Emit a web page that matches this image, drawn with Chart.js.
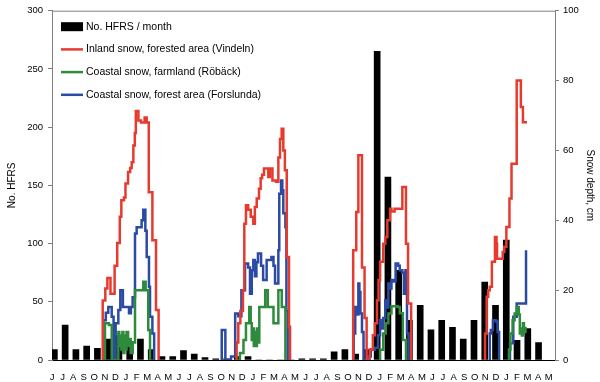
<!DOCTYPE html>
<html>
<head>
<meta charset="utf-8">
<script src="https://cdn.jsdelivr.net/npm/chart.js@4.4.0/dist/chart.umd.min.js"></script>
<style>
  html, body { margin: 0; padding: 0; background: #fff; }
  #chart { display: block; }
</style>
</head>
<body>
<canvas id="chart" width="600" height="382"></canvas>
<script>
// month letters under the x axis (June year 1 .. May year 5)
const monthLabels = ['J','J','A','S','O','N','D','J','F','M','A','M',
                     'J','J','A','S','O','N','D','J','F','M','A','M',
                     'J','J','A','S','O','N','D','J','F','M','A','M',
                     'J','J','A','S','O','N','D','J','F','M','A','M'];

// monthly HFRS cases
const hfrsCases = [9, 30, 9, 12, 10, 18, 21, 16, 18, 9,
                   3, 3, 8, 5, 2, 1, 1, 3, 3, 0,
                   0, 0, 0, 1, 1, 1, 7, 9, 5, 9,
                   265, 157, 77, 34, 47, 26, 34, 28, 18, 34,
                   67, 47, 103, 17, 27, 15];

// snow depth (cm), [month, depth] pairs, month 0 = start of first June
const inlandSnow = [
  [4.9, 0], [4.9, 17], [5.15, 20.5], [5.35, 23.5], [5.65, 19], [6.05, 27], [6.3, 33.5], [6.55, 41],
  [6.7, 45.7], [6.95, 46.5], [7.1, 50.5], [7.35, 53.8], [7.55, 55], [7.7, 56.6], [7.86, 61.4],
  [8.0, 65], [8.1, 71.3], [8.35, 68.6], [8.6, 68], [8.95, 69.4], [9.15, 68], [9.35, 48],
  [9.7, 34.3], [10.05, 14.3], [10.3, 0], [10.3, null],
  [17.84, 0], [17.84, 5], [18.0, 10.5], [18.2, 14], [18.45, 20], [18.58, 39], [18.74, 44.3],
  [18.95, 43], [19.2, 41], [19.45, 39], [19.6, 43.8], [19.78, 46.2], [20.0, 49], [20.16, 52],
  [20.3, 53], [20.48, 54.8], [20.9, 52.4], [21.05, 54.8], [21.3, 51.4], [21.64, 51], [21.87, 58],
  [22.03, 63.3], [22.19, 66.2], [22.35, 60], [22.5, 54.3], [22.68, 29.5], [22.9, 9.5], [23.0, 0],
  [23.0, null],
  [29.1, 0], [29.1, 31.4], [29.4, 42.4], [29.6, 58.6], [29.95, 26.5], [30.2, 12], [30.4, 0],
  [30.7, 3], [31.0, 7.1], [31.2, 10.5], [31.4, 17.1], [31.55, 22.9], [31.7, 28.1], [32.0, 33.3],
  [32.2, 35.2], [32.4, 40], [32.66, 43.3], [32.8, 42.5], [33.1, 43.3], [33.85, 49.5], [34.2, 33.3],
  [34.4, 16.2], [34.7, 0], [34.7, null],
  [41.84, 0], [41.84, 7.6], [42.0, 18.1], [42.15, 20], [42.3, 21], [42.5, 28.1], [42.8, 35.2],
  [42.95, 33.3], [43.0, 29], [43.55, 30.9], [43.7, 32.4], [43.9, 38.1], [44.2, 46.2], [44.4, 56.2],
  [44.9, 80], [45.3, 72.4], [45.5, 68.1], [45.9, 68.1]
];

const farmlandSnow = [
  [5.12, 0], [5.12, 10.5], [5.5, 10], [5.77, 0], [6.41, 8], [6.5, 4], [6.6, 7], [6.7, 3], [6.8, 8],
  [6.9, 2], [7.0, 7], [7.1, 3], [7.2, 8], [7.35, 4], [7.5, 6], [7.6, 2], [7.8, 5], [8.02, 20],
  [8.82, 22.4], [9.05, 20], [9.3, 8.6], [9.47, 0], [9.47, null],
  [18.16, 0], [18.16, 2], [18.5, 5.7], [18.74, 10.5], [19.06, 15.2], [19.2, 10.5], [19.3, 5.7],
  [19.4, 9], [19.5, 4], [19.6, 8], [19.7, 4], [19.8, 9], [19.9, 5], [20.03, 15.2], [20.6, 20],
  [20.85, 15.2], [21.4, 10.5], [21.87, 20], [22.2, 15.2], [22.55, 0], [22.55, null],
  [31.7, 0], [31.7, 2.9], [32.0, 7.6], [32.25, 10.5], [32.5, 13.3], [32.8, 15.4], [33.4, 15.2],
  [33.6, 13.4], [33.9, 5.7], [34.2, 0], [34.2, null],
  [44.15, 0], [44.15, 3], [44.3, 7.6], [44.5, 11.4], [44.7, 13.3], [44.9, 15.2], [45.1, 13],
  [45.2, 7.6], [45.3, 9], [45.4, 7], [45.5, 10.5], [45.6, 8], [45.75, 9.5]
];

const forestSnow = [
  [4.96, 0], [4.96, 11.4], [5.2, 13.5], [5.44, 15.2], [5.77, 12.4], [5.95, 0], [6.15, 10.5],
  [6.41, 14.3], [6.6, 20], [6.85, 15.2], [7.44, 13.4], [7.62, 15.2], [7.79, 18], [8.02, 36.2],
  [8.18, 38], [8.66, 40], [8.82, 43], [9.02, 37], [9.15, 29.5], [9.37, 21], [9.47, 12.4],
  [9.7, 7.6], [9.87, 0], [9.87, null],
  [16.4, 0], [16.4, 8.6], [16.75, 0], [17.3, 1], [17.7, 13.3], [18.0, 12.5], [18.3, 20],
  [18.65, 27.6], [18.95, 26.5], [19.13, 19], [19.3, 25.7], [19.45, 28.6], [19.6, 24], [19.75, 28],
  [19.9, 30.5], [20.2, 27], [20.4, 22.9], [20.74, 28.6], [21.2, 29.5], [21.4, 27], [21.55, 21.9],
  [21.87, 31.4], [21.96, 47.6], [22.13, 51.4], [22.25, 48.6], [22.35, 42], [22.55, 38],
  [22.65, 14], [22.77, 0], [22.77, null],
  [29.15, 0], [29.15, 7.6], [29.3, 15.2], [29.45, 13], [29.6, 21.9], [29.7, 19.5], [29.8, 13.3],
  [29.95, 8], [30.1, 0], [30.5, 1], [30.8, 2.9], [31.2, 3.5], [31.5, 7.1], [31.7, 11.4],
  [31.85, 9], [32.0, 12], [32.2, 17.1], [32.35, 15], [32.5, 21.9], [32.65, 20.5], [32.8, 22.9],
  [33.0, 22.5], [33.2, 27.6], [33.45, 27], [33.6, 25.7], [33.85, 25], [34.0, 19], [34.15, 25.7],
  [34.3, 7.6], [34.45, 0], [34.45, null],
  [42.3, 0], [42.3, 7.6], [42.4, 8.6], [42.6, 11.4], [42.9, 11], [43.05, 8], [43.2, 0],
  [43.2, null],
  [44.25, 0], [44.25, 4.8], [44.57, 12.4], [44.9, 16.2], [45.8, 31.4]
];

const FONT = '"Liberation Sans", Arial, Helvetica, sans-serif';
const AXIS_GREY = '#808080';
const LABEL_STEP = 1.021;

Chart.defaults.font.family = FONT;
Chart.defaults.font.size = 9.5;
Chart.defaults.color = '#000';

// legend stacked in the top left corner of the plot
const cornerLegend = {
  id: 'cornerLegend',
  afterDatasetsDraw(chart) {
    const { ctx, chartArea } = chart;
    ctx.save();
    ctx.font = `10.5px ${FONT}`;
    ctx.textBaseline = 'middle';
    chart.data.datasets.forEach((ds, i) => {
      const x = chartArea.left + 9;
      const y = chartArea.top + 16 + i * 22.7;
      if (ds.type === 'bar') {
        ctx.fillStyle = ds.backgroundColor;
        ctx.fillRect(x, y - 4.5, 22, 9);
      } else {
        ctx.strokeStyle = ds.borderColor;
        ctx.lineWidth = 2.5;
        ctx.beginPath();
        ctx.moveTo(x, y);
        ctx.lineTo(x + 22, y);
        ctx.stroke();
      }
      ctx.fillStyle = '#000';
      ctx.fillText(ds.label, x + 25, y);
    });
    ctx.restore();
  }
};

// grey top edge of the plot frame
const topEdge = {
  id: 'topEdge',
  beforeDatasetsDraw(chart) {
    const { ctx, chartArea } = chart;
    ctx.save();
    ctx.strokeStyle = AXIS_GREY;
    ctx.lineWidth = 1;
    ctx.beginPath();
    ctx.moveTo(chartArea.left, chartArea.top + 0.5);
    ctx.lineTo(chartArea.right, chartArea.top + 0.5);
    ctx.stroke();
    ctx.restore();
  }
};

const snowLine = (label, data, color, order) => ({
  type: 'line',
  label,
  data,
  borderColor: color,
  backgroundColor: color,
  borderWidth: 2.5,
  pointRadius: 0,
  stepped: true,
  spanGaps: false,
  xAxisID: 'x',
  yAxisID: 'y2',
  order
});

new Chart(document.getElementById('chart'), {
  data: {
    datasets: [
      {
        type: 'bar',
        label: 'No. HFRS / month',
        data: hfrsCases.map((v, i) => ({ x: i + 0.5, y: v })),
        backgroundColor: '#000',
        barThickness: 6,
        xAxisID: 'xb',
        yAxisID: 'y',
        order: 4
      },
      snowLine('Inland snow, forested area (Vindeln)', inlandSnow, '#e63a2e', 1),
      snowLine('Coastal snow, farmland (Röbäck)', farmlandSnow, '#2e8b3b', 2),
      snowLine('Coastal snow, forest area (Forslunda)', forestSnow, '#2b4aa3', 3)
    ]
  },
  options: {
    responsive: false,
    animation: false,
    devicePixelRatio: 1,
    layout: { padding: { top: 10, left: 0, right: 0, bottom: 0 } },
    plugins: { legend: { display: false }, tooltip: { enabled: false } },
    scales: {
      x: {
        type: 'linear',
        position: 'bottom',
        min: 0,
        max: 48.6,
        offset: false,
        afterBuildTicks: (scale) => {
          scale.ticks = monthLabels.map((_, i) => ({ value: i * LABEL_STEP }));
        },
        afterFit: (scale) => { scale.height = 22; },
        ticks: {
          autoSkip: false,
          maxRotation: 0,
          minRotation: 0,
          padding: 4,
          callback: (value, index) => monthLabels[index]
        },
        grid: { display: false },
        border: { color: '#000', width: 1 }
      },
      xb: {
        type: 'linear',
        display: false,
        offset: false,
        min: 0,
        max: 46.75
      },
      y: {
        position: 'left',
        min: 0,
        max: 300,
        afterFit: (scale) => { scale.width = 52; },
        ticks: { stepSize: 50, padding: 5 },
        grid: { drawOnChartArea: false, tickLength: 4, color: AXIS_GREY },
        border: { color: AXIS_GREY },
        title: { display: true, text: 'No. HFRS', font: { size: 10 }, padding: { top: 6, bottom: 0 } }
      },
      y2: {
        position: 'right',
        min: 0,
        max: 100,
        afterFit: (scale) => { scale.width = 45; },
        ticks: { stepSize: 20, padding: 4 },
        grid: { drawOnChartArea: false, tickLength: 4, color: AXIS_GREY },
        border: { color: AXIS_GREY },
        title: { display: true, text: 'Snow depth, cm', font: { size: 10 }, padding: { top: 4, bottom: 0 } }
      }
    }
  },
  plugins: [topEdge, cornerLegend]
});
</script>
</body>
</html>
